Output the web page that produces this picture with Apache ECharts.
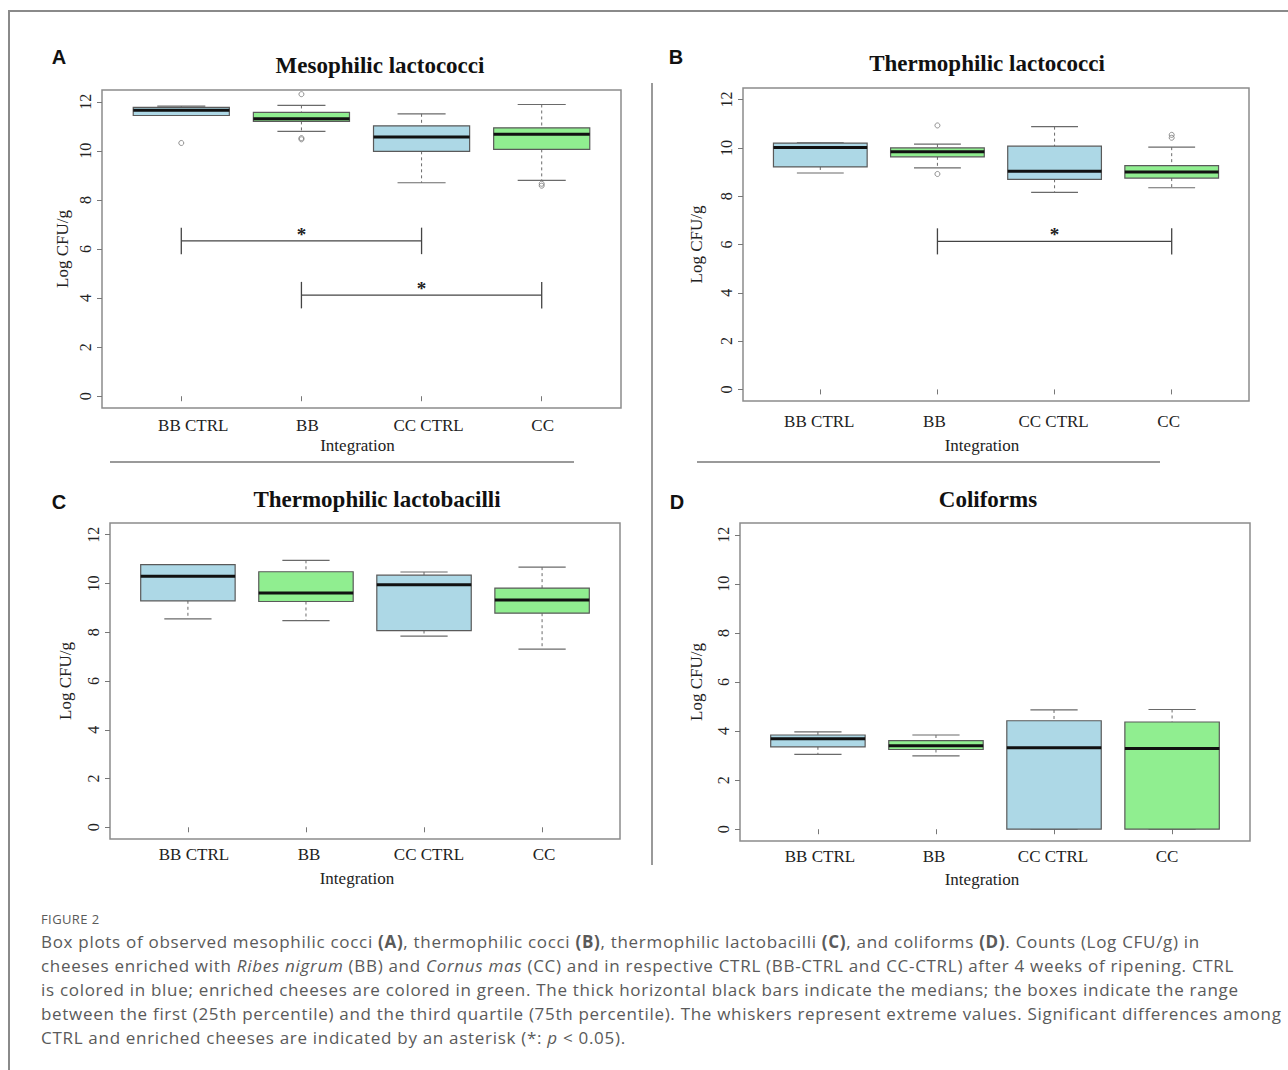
<!DOCTYPE html>
<html>
<head>
<meta charset="utf-8">
<script src="https://cdn.jsdelivr.net/npm/echarts@6/dist/echarts.min.js"></script>
<style>
  html, body { margin: 0; padding: 0; background: #fff; }
  #page { position: relative; width: 1288px; height: 1070px; overflow: hidden; }
  #frame { position: absolute; left: 8px; top: 10px; right: -4px; bottom: -4px;
           border-left: 2px solid #8a8a8a; border-top: 2px solid #8a8a8a; }
  #chart { position: absolute; left: 0; top: 0; width: 1288px; height: 900px; }
  #caption { position: absolute; left: 41px; top: 908px; color: #5a5a5a;
             font-family: 'Open Sans', 'Noto Sans', sans-serif; white-space: nowrap; }
  #caption .fig { font-size: 13px; letter-spacing: 0.4px; line-height: 22px; }
  #caption .txt { font-size: 17px; line-height: 24px; letter-spacing: 0.7px; }
</style>
</head>
<body>
<div id="page">
  <div id="frame"></div>
  <div id="chart"></div>
  <div id="caption">
    <div class="fig">FIGURE 2</div>
    <div class="txt">
      Box plots of observed mesophilic cocci <b>(A)</b>, thermophilic cocci <b>(B)</b>, thermophilic lactobacilli <b>(C)</b>, and coliforms <b>(D)</b>. Counts (Log CFU/g) in<br>
      cheeses enriched with <i>Ribes nigrum</i> (BB) and <i>Cornus mas</i> (CC) and in respective CTRL (BB-CTRL and CC-CTRL) after 4 weeks of ripening. CTRL<br>
      is colored in blue; enriched cheeses are colored in green. The thick horizontal black bars indicate the medians; the boxes indicate the range<br>
      between the first (25th percentile) and the third quartile (75th percentile). The whiskers represent extreme values. Significant differences among<br>
      CTRL and enriched cheeses are indicated by an asterisk (*: <i>p</i> &lt; 0.05).
    </div>
  </div>
</div>
<script>
// groups on the x axis (positions 1..4)
const categories = ['BB CTRL', 'BB', 'CC CTRL', 'CC'];
const yTicks = [0, 2, 4, 6, 8, 10, 12];

// per group: [lower whisker, Q1, median, Q3, upper whisker]  (Log CFU/g)
const mesoStats = [
  [11.44, 11.44, 11.65, 11.77, 11.82],
  [10.79, 11.20, 11.31, 11.57, 11.85],
  [8.70, 9.98, 10.56, 11.02, 11.51],
  [8.80, 10.06, 10.68, 10.94, 11.89]
];
const thermoCocciStats = [
  [8.96, 9.21, 10.02, 10.20, 10.21],
  [9.17, 9.63, 9.84, 10.00, 10.16],
  [8.16, 8.70, 9.03, 10.07, 10.88],
  [8.35, 8.75, 9.00, 9.27, 10.03]
];
const lactobacilliStats = [
  [8.55, 9.29, 10.30, 10.77, 10.77],
  [8.48, 9.26, 9.61, 10.48, 10.95],
  [7.84, 8.07, 9.95, 10.34, 10.47],
  [7.31, 8.78, 9.32, 9.81, 10.67]
];
const coliformStats = [
  [3.05, 3.36, 3.69, 3.84, 3.97],
  [2.99, 3.25, 3.40, 3.61, 3.84],
  [0.00, 0.00, 3.32, 4.42, 4.86],
  [0.00, 0.00, 3.29, 4.37, 4.88]
];

// outliers: [group index, value]
const mesoOutliers = [[0, 10.32], [1, 12.31], [1, 10.52], [1, 10.47], [3, 8.66], [3, 8.58]];
const thermoCocciOutliers = [[1, 10.93], [1, 8.92], [3, 10.54], [3, 10.42]];
const lactobacilliOutliers = [];
const coliformOutliers = [];

// significance brackets: [from group index, to group index, level]
const mesoBrackets = [[0, 2, 6.33], [1, 3, 4.12]];
const thermoCocciBrackets = [[1, 3, 6.13]];
const lactobacilliBrackets = [];
const coliformBrackets = [];

const panelTitles = ['Mesophilic lactococci', 'Thermophilic lactococci', 'Thermophilic lactobacilli', 'Coliforms'];
const panelLetters = ['A', 'B', 'C', 'D'];

// layout per panel; labelShift nudges each x label (px), nameShift nudges "Integration" (px)
const panels = [
  { stats: mesoStats, outliers: mesoOutliers, brackets: mesoBrackets,
    grid: { left: 102, top: 90, width: 519, height: 318 }, title: [380, 54], letter: [59, 47],
    nameGapY: 31, nameGapX: 29, labelMargin: 9, labelShift: [12, 6, 7, 1], nameShift: -4 },
  { stats: thermoCocciStats, outliers: thermoCocciOutliers, brackets: thermoCocciBrackets,
    grid: { left: 743, top: 88, width: 506, height: 313 }, title: [987, 52], letter: [676, 47],
    nameGapY: 38, nameGapX: 36, labelMargin: 12, labelShift: [-1, -3, -1, -3], nameShift: -14 },
  { stats: lactobacilliStats, outliers: lactobacilliOutliers, brackets: lactobacilliBrackets,
    grid: { left: 110, top: 523, width: 510, height: 316 }, title: [377, 488], letter: [59, 492],
    nameGapY: 36, nameGapX: 31, labelMargin: 7, labelShift: [6, 3, 5, 2], nameShift: -8 },
  { stats: coliformStats, outliers: coliformOutliers, brackets: coliformBrackets,
    grid: { left: 740, top: 523, width: 510, height: 318 }, title: [988, 488], letter: [677, 492],
    nameGapY: 35, nameGapX: 30, labelMargin: 7, labelShift: [2, -2, -1, -5], nameShift: -13 }
];

const SERIF = "'Liberation Serif', 'Times New Roman', serif";
const CTRL_FILL = '#add8e6';
const ENRICHED_FILL = '#90ee90';

function renderBox(params, api) {
  const x = api.value(0);
  const low = api.value(1), q1 = api.value(2), med = api.value(3), q3 = api.value(4), high = api.value(5);
  const c = api.coord([x, med]);
  const half = api.coord([x + 0.4, med])[0] - c[0];
  const cap = half / 2;
  const yLow = api.coord([x, low])[1];
  const yQ1 = api.coord([x, q1])[1];
  const yQ3 = api.coord([x, q3])[1];
  const yHigh = api.coord([x, high])[1];
  const fill = categories[x - 1].indexOf('CTRL') >= 0 ? CTRL_FILL : ENRICHED_FILL;
  const whisker = { stroke: '#6a6a6a', lineWidth: 1, lineDash: [3, 3] };
  const capStyle = { stroke: '#6a6a6a', lineWidth: 1.2 };
  return {
    type: 'group',
    children: [
      { type: 'line', shape: { x1: c[0], y1: yHigh, x2: c[0], y2: yQ3 }, style: whisker },
      { type: 'line', shape: { x1: c[0], y1: yQ1, x2: c[0], y2: yLow }, style: whisker },
      { type: 'line', shape: { x1: c[0] - cap, y1: yHigh, x2: c[0] + cap, y2: yHigh }, style: capStyle },
      { type: 'line', shape: { x1: c[0] - cap, y1: yLow, x2: c[0] + cap, y2: yLow }, style: capStyle },
      { type: 'rect', shape: { x: c[0] - half, y: yQ3, width: half * 2, height: yQ1 - yQ3 },
        style: { fill: fill, stroke: '#5a5a5a', lineWidth: 1.2 } },
      { type: 'line', shape: { x1: c[0] - half, y1: c[1], x2: c[0] + half, y2: c[1] },
        style: { stroke: '#111', lineWidth: 3 } }
    ]
  };
}

function renderBracket(params, api) {
  const from = api.value(0), to = api.value(1), level = api.value(2);
  const a = api.coord([from, level]);
  const b = api.coord([to, level]);
  const tick = api.coord([from, level + 0.54])[1] - a[1];
  const style = { stroke: '#444', lineWidth: 1.3 };
  return {
    type: 'group',
    children: [
      { type: 'line', shape: { x1: a[0], y1: a[1], x2: b[0], y2: b[1] }, style: style },
      { type: 'line', shape: { x1: a[0], y1: a[1] - tick, x2: a[0], y2: a[1] + tick }, style: style },
      { type: 'line', shape: { x1: b[0], y1: b[1] - tick, x2: b[0], y2: b[1] + tick }, style: style },
      { type: 'text', x: (a[0] + b[0]) / 2, y: a[1] + 3,
        style: { text: '*', fill: '#222', font: 'bold 19px ' + SERIF, align: 'center', verticalAlign: 'bottom' } }
    ]
  };
}

const grids = [], xAxes = [], yAxes = [], series = [], titles = [];

panels.forEach((p, i) => {
  grids.push(Object.assign({ show: true, borderColor: '#8c8c8c', borderWidth: 1.5, backgroundColor: 'transparent' }, p.grid));

  const rich = {};
  p.labelShift.forEach((s, k) => {
    rich['l' + k] = { fontFamily: SERIF, fontSize: 17, color: '#222',
                      padding: s >= 0 ? [0, 0, 0, 2 * s] : [0, -2 * s, 0, 0] };
  });
  const ns = p.nameShift;

  xAxes.push({
    gridIndex: i, type: 'value', min: 0.34, max: 4.66,
    axisLine: { show: false },
    axisTick: { show: true, customValues: [1, 2, 3, 4], length: 5, lineStyle: { color: '#777' } },
    axisLabel: { customValues: [1, 2, 3, 4],
                 formatter: v => { const k = Math.round(v) - 1; return '{l' + k + '|' + categories[k] + '}'; },
                 rich: rich, fontFamily: SERIF, fontSize: 17, color: '#222', margin: p.labelMargin },
    splitLine: { show: false },
    name: 'Integration', nameLocation: 'middle', nameGap: p.nameGapX,
    nameTextStyle: { fontFamily: SERIF, fontSize: 17, color: '#222',
                     padding: ns >= 0 ? [0, 0, 0, 2 * ns] : [0, -2 * ns, 0, 0] }
  });

  yAxes.push({
    gridIndex: i, type: 'value', min: -0.48, max: 12.48,
    axisLine: { show: false },
    axisTick: { show: true, customValues: yTicks, length: 5, lineStyle: { color: '#777' } },
    axisLabel: { customValues: yTicks, rotate: 90, fontFamily: SERIF, fontSize: 16, color: '#222', margin: 9 },
    splitLine: { show: false },
    name: 'Log CFU/g', nameLocation: 'middle', nameGap: p.nameGapY,
    nameTextStyle: { fontFamily: SERIF, fontSize: 17, color: '#222' }
  });

  series.push({
    type: 'custom', xAxisIndex: i, yAxisIndex: i,
    renderItem: renderBox,
    encode: { x: 0, y: [1, 2, 3, 4, 5] },
    data: p.stats.map((s, k) => [k + 1].concat(s)),
    z: 3
  });

  series.push({
    type: 'scatter', xAxisIndex: i, yAxisIndex: i,
    symbol: 'circle', symbolSize: 5,
    itemStyle: { color: 'transparent', borderColor: '#777', borderWidth: 1 },
    data: p.outliers.map(o => [o[0] + 1, o[1]]),
    z: 4
  });

  if (p.brackets.length) {
    series.push({
      type: 'custom', xAxisIndex: i, yAxisIndex: i,
      renderItem: renderBracket,
      encode: { x: [0, 1], y: 2 },
      data: p.brackets.map(b => [b[0] + 1, b[1] + 1, b[2]]),
      z: 5
    });
  }

  titles.push({
    text: panelTitles[i], left: p.title[0], top: p.title[1], textAlign: 'center', padding: 0,
    textStyle: { fontFamily: SERIF, fontWeight: 'bold', fontSize: 23, color: '#111' }
  });
  titles.push({
    text: panelLetters[i], left: p.letter[0], top: p.letter[1], textAlign: 'center', padding: 0,
    textStyle: { fontFamily: "'Liberation Sans', Arial, sans-serif", fontWeight: 'bold', fontSize: 20, color: '#111' }
  });
});

const chart = echarts.init(document.getElementById('chart'), null, { renderer: 'svg' });
chart.setOption({
  animation: false,
  backgroundColor: 'transparent',
  title: titles,
  grid: grids,
  xAxis: xAxes,
  yAxis: yAxes,
  series: series,
  graphic: [
    { type: 'line', shape: { x1: 652, y1: 83, x2: 652, y2: 865 }, style: { stroke: '#9a9a9a', lineWidth: 2 } },
    { type: 'line', shape: { x1: 110, y1: 462, x2: 574, y2: 462 }, style: { stroke: '#9a9a9a', lineWidth: 2 } },
    { type: 'line', shape: { x1: 697, y1: 462, x2: 1160, y2: 462 }, style: { stroke: '#9a9a9a', lineWidth: 2 } }
  ]
});
</script>
</body>
</html>
